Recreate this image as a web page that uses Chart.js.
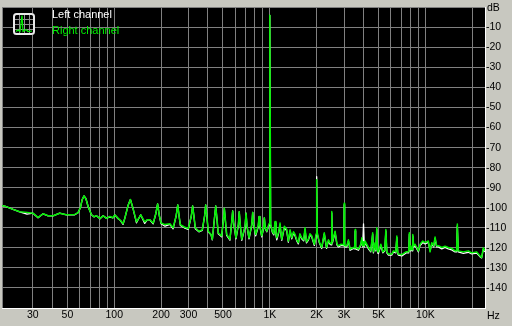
<!DOCTYPE html>
<html>
<head>
<meta charset="utf-8">
<script src="https://cdn.jsdelivr.net/npm/chart.js@4/dist/chart.umd.min.js"></script>
<style>
  html, body { margin: 0; padding: 0; background: #c8c8c0; }
  canvas { display: block; }
</style>
</head>
<body>
<canvas id="chart" width="512" height="326"></canvas>
<script>
// spectrum: frequency (Hz) and level (dB) per channel
const freqs = [
  19, 20, 22.4, 24.7, 27.5, 30, 32.4, 34.9, 37.6, 40.5, 44.6, 49.3, 55.7, 58.5, 60.6, 62.2, 63.9, 65.8, 68, 71.4,
  74, 76.9, 81, 84.9, 89.3, 93.6, 98, 101, 106, 110, 114, 117, 123, 127, 132, 139, 148, 157, 163, 169,
  178, 185, 190, 195, 200, 212, 228, 239, 250, 256, 261, 266, 282, 299, 313, 319, 325, 332, 350, 368,
  381, 387, 394, 402, 419, 427, 441, 449, 457, 466, 490, 503, 510, 518, 528, 554, 569, 577, 585, 606,
  628, 636, 645, 660, 693, 703, 714, 735, 766, 776, 787, 811, 842, 853, 864, 887, 910, 922, 934, 956,
  988, 1000, 1012, 1037, 1060, 1080, 1095, 1108, 1140, 1163, 1180, 1193, 1240, 1284, 1315, 1350, 1383, 1420, 1452, 1490,
  1525, 1560, 1602, 1650, 1683, 1720, 1768, 1810, 1858, 1932, 1985, 2000, 2018, 2080, 2155, 2238, 2315, 2380, 2430, 2480,
  2500, 2525, 2626, 2700, 2758, 2870, 2985, 3004, 3025, 3124, 3200, 3281, 3446, 3510, 3534, 3560, 3712, 3850, 3902, 3950,
  4000, 4050, 4096, 4302, 4450, 4522, 4580, 4630, 4749, 4800, 4870, 4930, 4987, 5168, 5324, 5480, 5566, 5650, 5784, 6082,
  6228, 6450, 6548, 6640, 6706, 7050, 7507, 7800, 7883, 7960, 8047, 8200, 8290, 8400, 8577, 9010, 9240, 9610, 9940, 10440,
  10710, 10980, 11300, 11530, 11800, 12110, 12730, 13360, 14030, 14750, 15490, 15850, 16030, 16250, 17510, 18860, 19820, 21340, 22400, 22970,
  23530, 24140
];
const rightDb = [
  -99, -99.3, -100.8, -102, -102.3, -102.7, -104.8, -103, -104, -104, -102.7, -103.5, -103.3, -102.5, -100, -96, -94.1, -95.5, -99.5, -103.5,
  -104.5, -104, -105.3, -104, -105.3, -104.3, -105, -103.6, -105.3, -106.5, -107.9, -105.2, -98.6, -95.9, -100.3, -107, -103.5, -107, -106, -106,
  -107.6, -103, -98.1, -104, -107.6, -108.4, -108, -110, -104, -98.6, -104, -108.4, -109.6, -110.4, -104, -99.1, -104, -110, -111.7, -111,
  -104, -98.6, -104, -111.7, -113.3, -115.7, -105, -99.1, -105, -112.5, -114, -106, -100.3, -106, -113.3, -115.7, -107, -101.6, -107, -115,
  -108, -102, -108, -115.7, -109, -102.7, -109, -115, -108, -102.3, -108, -113.3, -109, -104.4, -109, -114, -110, -105, -110, -111.7,
  -108, -4, -108, -111.7, -113, -106.8, -113, -115, -112, -107.6, -113, -115.7, -109.2, -110.8, -116.6, -111, -115, -112, -113.3, -116,
  -117.4, -113, -115, -116, -110, -117, -115.7, -113, -114, -118.2, -113, -86, -112.5, -117, -119.8, -112.5, -119.8, -116, -117.4, -118,
  -101.9, -117, -111.7, -118, -119, -118.2, -118.5, -97.8, -119, -119, -116, -120.6, -119.8, -120, -110.8, -120, -120.6, -118, -115, -119,
  -117, -119, -116.6, -119.8, -121.5, -116.6, -112.5, -122, -117.4, -121, -110, -122, -122, -118.2, -122, -121, -110.8, -122, -123.1, -123.1,
  -121.5, -122, -114.1, -122.5, -123.1, -123.4, -122, -122, -112.5, -121, -118.9, -121, -113.3, -119, -118.2, -121.5, -118.2, -116.6, -117.4, -116.6,
  -122, -117.4, -119, -114.6, -119, -118.9, -119.8, -119.2, -119.8, -120.3, -121.5, -121.5, -108.1, -121.5, -122, -121.5, -122.5, -122, -124, -124.8,
  -120, -121.5
];
const leftDb = [
  -99, -99.3, -100.8, -102, -103.2, -102.7, -105, -103, -104, -104, -102.7, -103.5, -103.5, -102.5, -100, -96, -94.1, -95.5, -99.5, -103.5,
  -104.5, -104, -105.5, -104, -105.3, -104.5, -105, -103.6, -105.5, -106.5, -108.3, -105.2, -98.6, -95.9, -100.3, -107.5, -103.5, -107.8, -106, -106,
  -108, -103, -98.1, -104, -108, -109.2, -108.3, -110.5, -104, -98.6, -104, -108.8, -110, -110.8, -104, -99.1, -104, -110.5, -112, -111.3,
  -104, -98.6, -104.5, -112, -113.5, -116, -105, -99.1, -105.5, -113, -114.5, -106, -100.3, -106.5, -113.8, -116.2, -107, -101.6, -107.5, -115.5,
  -108.5, -102, -108.5, -116.2, -109.5, -102.7, -109.5, -115.5, -108.5, -102.3, -108.5, -114, -109.5, -104.4, -109.5, -114.5, -110.5, -105, -110.5, -112,
  -108.5, -4, -108.5, -112.2, -113.5, -107.5, -113.5, -116, -112.5, -108.5, -113.5, -116.2, -109.8, -111.5, -117.2, -111.5, -115.5, -112.5, -114, -116.5,
  -118, -113.5, -115.5, -116.5, -110.8, -117.5, -116.2, -113.5, -114.5, -118.8, -113.5, -84.5, -113, -117.5, -120.3, -113, -120.3, -116.5, -118, -118.5,
  -102.5, -117.5, -112.2, -118.5, -119.5, -118.8, -119, -98.5, -119.5, -119.5, -116.5, -121.2, -120.3, -120.5, -111.5, -120.5, -121.2, -118.5, -115.5, -119.5,
  -108, -119.5, -117.2, -120.5, -122, -117.2, -113.2, -122.5, -118, -121.5, -110.8, -122.5, -122.8, -118.8, -122.5, -121.5, -111.5, -122.5, -123.6, -123.6,
  -122, -122.5, -114.8, -123, -123.6, -124, -122.5, -122.5, -113.2, -121.5, -119.5, -121.5, -114, -119.5, -118.8, -122, -118.8, -117.3, -118, -117.3,
  -121.5, -118, -119.5, -115.3, -119.5, -119.5, -120.5, -119.8, -120.5, -121, -122, -122, -109, -122, -122.8, -122.2, -123, -122.6, -124.4, -125,
  -120.8, -122
];

const gridFreqs = [
  19, 30, 40, 50, 60, 70, 80, 90, 100, 200, 300, 400, 500, 600, 700, 800, 900,
  1000, 2000, 3000, 4000, 5000, 6000, 7000, 8000, 9000, 10000, 20000
];
const freqLabels = { 30: "30", 50: "50", 100: "100", 200: "200", 300: "300", 500: "500",
  1000: "1K", 2000: "2K", 3000: "3K", 5000: "5K", 10000: "10K" };
const dbTicks = [0, -10, -20, -30, -40, -50, -60, -70, -80, -90, -100, -110, -120, -130, -140, -150];

const BG = "#c8c8c0";
const GRID = "#808080";
const FONT = '"Liberation Sans", Arial, sans-serif';

const toPoints = vals => freqs.map((f, i) => ({ x: f, y: vals[i] }));

const panel = {
  id: "panel",
  beforeDraw(chart) {
    const { ctx, chartArea: a } = chart;
    ctx.save();
    ctx.fillStyle = BG;
    ctx.fillRect(0, 0, chart.width, chart.height);
    ctx.fillStyle = "#000";
    ctx.fillRect(a.left, a.top, a.right - a.left, a.bottom - a.top);
    ctx.restore();
  },
  afterDraw(chart) {
    const { ctx, chartArea: a } = chart;
    ctx.save();
    // legend icon
    const ix = 13, iy = 13, s = 22;
    ctx.fillStyle = "#000";
    ctx.fillRect(ix, iy, s, s);
    ctx.strokeStyle = "#909090";
    ctx.lineWidth = 1;
    ctx.beginPath();
    [6, 11, 16].forEach(d => {
      ctx.moveTo(ix + d + 0.5, iy + 2); ctx.lineTo(ix + d + 0.5, iy + s - 2);
      ctx.moveTo(ix + 2, iy + d + 0.5); ctx.lineTo(ix + s - 2, iy + d + 0.5);
    });
    ctx.stroke();
    ctx.strokeStyle = "#00f000";
    ctx.lineWidth = 1.2;
    ctx.beginPath();
    ctx.moveTo(ix + 3, iy + 18.5);
    ctx.lineTo(ix + 5, iy + 17); ctx.lineTo(ix + 7, iy + 18.5);
    ctx.lineTo(ix + 9, iy + 2.5); ctx.lineTo(ix + 10, iy + 18.5);
    ctx.lineTo(ix + 13, iy + 16.5); ctx.lineTo(ix + 15, iy + 18.5);
    ctx.lineTo(ix + 19, iy + 18);
    ctx.stroke();
    ctx.strokeStyle = "#e8e8e8";
    ctx.lineWidth = 2;
    ctx.beginPath();
    ctx.roundRect(ix + 1, iy + 1, s - 2, s - 2, 2.5);
    ctx.stroke();
    // legend texts
    ctx.font = "11px " + FONT;
    ctx.textBaseline = "middle";
    ctx.textAlign = "left";
    chart.data.datasets.forEach((ds, i) => {
      ctx.fillStyle = ds.borderColor;
      ctx.fillText(ds.label, 52, 15 + i * 16);
    });
    // units
    ctx.font = "10.5px " + FONT;
    ctx.fillStyle = "#000";
    ctx.fillText("dB", a.right + 2, 8);
    ctx.fillText("Hz", a.right + 2, 316);
    ctx.restore();
  }
};

new Chart(document.getElementById("chart"), {
  type: "line",
  data: {
    datasets: [
      { label: "Left channel", data: toPoints(leftDb), borderColor: "#ffffff", borderWidth: 1.3, order: 1 },
      { label: "Right channel", data: toPoints(rightDb), borderColor: "#00f000", borderWidth: 1.5, order: 0 },
    ]
  },
  options: {
    responsive: false,
    devicePixelRatio: 1,
    animation: false,
    events: [],
    layout: { padding: { left: 2, top: 1, right: 0, bottom: 0 } },
    elements: { point: { radius: 0 }, line: { tension: 0, borderJoinStyle: "round" } },
    plugins: { legend: { display: false }, tooltip: { enabled: false } },
    scales: {
      x: {
        type: "logarithmic",
        min: 19,
        max: 24140,
        afterBuildTicks: sc => { sc.ticks = gridFreqs.map(v => ({ value: v })); },
        afterFit: sc => { sc.height = 18; },
        grid: { color: GRID, lineWidth: 1, drawTicks: false },
        border: { color: "#ffffff", width: 1 },
        ticks: {
          autoSkip: false, maxRotation: 0, minRotation: 0, padding: 1,
          color: "#000", font: { family: FONT, size: 10.5 },
          callback: v => freqLabels[v] || ""
        }
      },
      y: {
        position: "right",
        min: -150,
        max: 0,
        afterBuildTicks: sc => { sc.ticks = dbTicks.map(v => ({ value: v })); },
        afterFit: sc => { sc.width = 27; },
        grid: { color: GRID, lineWidth: 1, drawTicks: false },
        border: { color: "#ffffff", width: 1 },
        ticks: {
          padding: 1, color: "#000", font: { family: FONT, size: 10.5 },
          callback: v => (v === 0 || v === -150) ? "" : String(v)
        }
      }
    }
  },
  plugins: [panel]
});
</script>
</body>
</html>
